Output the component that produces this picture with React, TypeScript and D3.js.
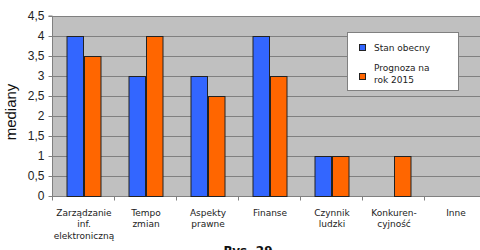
import { useEffect, useRef } from 'react';
import * as d3 from 'd3';

const categories = [
  ['Zarządzanie', 'inf.', 'elektroniczną'],
  ['Tempo', 'zmian'],
  ['Aspekty', 'prawne'],
  ['Finanse'],
  ['Czynnik', 'ludzki'],
  ['Konkuren-', 'cyjność'],
  ['Inne'],
];
const seriesNames = ['Stan obecny', 'Prognoza na rok 2015'];
const stanObecny: (number | null)[] = [4, 3, 3, 4, 1, null, null];
const prognoza2015: (number | null)[] = [3.5, 4, 2.5, 3, 1, 1, null];
const yTicks = [0, 0.5, 1, 1.5, 2, 2.5, 3, 3.5, 4, 4.5];
const colors = ['#3366ff', '#ff6600'];

export default function App() {
  const svgRef = useRef<SVGSVGElement>(null);

  useEffect(() => {
    if (!svgRef.current) return;
    const svg = d3.select(svgRef.current);
    svg.selectAll('*').remove();

    const left = 53;
    const top = 16;
    const bottom = 196;
    const bandW = 62;
    const keys = categories.map((c) => c.join(' '));

    const x = d3.scaleBand()
      .domain(keys)
      .range([left, left + bandW * keys.length])
      .padding(0);
    const inner = d3.scaleBand()
      .domain(seriesNames)
      .range([x.bandwidth() / 2 - 17.5, x.bandwidth() / 2 + 17.5])
      .padding(0);
    const y = d3.scaleLinear().domain([0, 4.5]).range([bottom, top]);

    // plot background
    svg.append('rect')
      .attr('x', left)
      .attr('y', top)
      .attr('width', 480 - left + 10)
      .attr('height', bottom - top)
      .attr('fill', '#c0c0c0');

    // grid lines
    svg.append('g')
      .selectAll('line')
      .data(yTicks.filter((d) => d > 0))
      .join('line')
      .attr('x1', left)
      .attr('x2', 490)
      .attr('y1', (d) => Math.round(y(d)) + 0.5)
      .attr('y2', (d) => Math.round(y(d)) + 0.5)
      .attr('stroke', '#808080')
      .attr('stroke-width', 1);

    // y axis
    const yAxis = svg.append('g')
      .attr('transform', `translate(${left - 0.5},0)`)
      .call(d3.axisLeft(y).tickValues(yTicks).tickSize(4).tickPadding(4)
        .tickFormat((d) => String(d).replace('.', ',')));
    yAxis.select('.domain').attr('stroke', '#808080').attr('d', `M-4,${top}H0V${bottom}`);
    yAxis.selectAll('.tick line').attr('stroke', '#808080');
    yAxis.selectAll('.tick')
      .attr('transform', (d: any) => `translate(0,${Math.round(y(d)) + 0.5})`);
    yAxis.selectAll('text')
      .attr('fill', '#222')
      .style('font-family', '"Liberation Sans", Arial, sans-serif')
      .style('font-size', '12px');

    // x axis
    const xAxis = svg.append('g').attr('transform', `translate(0,${bottom + 0.5})`);
    xAxis.append('line')
      .attr('x1', left - 4)
      .attr('x2', 490)
      .attr('stroke', '#808080');
    xAxis.selectAll('.xt')
      .data(keys)
      .join('line')
      .attr('class', 'xt')
      .attr('x1', (d) => Math.round(x(d)!) - 0.5)
      .attr('x2', (d) => Math.round(x(d)!) - 0.5)
      .attr('y1', 0)
      .attr('y2', 4)
      .attr('stroke', '#808080');

    const labels = xAxis.selectAll('.xl')
      .data(categories)
      .join('text')
      .attr('class', 'xl')
      .attr('text-anchor', 'middle')
      .attr('fill', '#222')
      .style('font-family', '"DejaVu Sans", Verdana, sans-serif')
      .style('font-size', '9px');
    labels.each(function (lines, i) {
      const t = d3.select(this);
      lines.forEach((ln, j) => {
        t.append('tspan')
          .attr('x', x(keys[i])! + x.bandwidth() / 2)
          .attr('y', 19 + j * 11.5)
          .text(ln);
      });
    });

    // bars
    const groups = svg.append('g')
      .selectAll('g')
      .data(keys)
      .join('g')
      .attr('transform', (d) => `translate(${x(d)},0)`);
    groups.selectAll('rect')
      .data((_, i) => [stanObecny[i], prognoza2015[i]].map((v, s) => ({ v, s })))
      .join('rect')
      .filter((d) => d.v != null)
      .attr('x', (d) => inner(seriesNames[d.s])! + 0.5)
      .attr('y', (d) => Math.round(y(d.v as number)) + 0.5)
      .attr('width', inner.bandwidth() - 1)
      .attr('height', (d) => bottom - Math.round(y(d.v as number)))
      .attr('fill', (d) => colors[d.s])
      .attr('stroke', '#222')
      .attr('stroke-width', 1);

    // y label
    svg.append('text')
      .attr('transform', 'translate(16,112) rotate(-90)')
      .attr('text-anchor', 'middle')
      .attr('fill', '#111')
      .style('font-family', '"Liberation Sans", Arial, sans-serif')
      .style('font-size', '15px')
      .text('mediany');

    // legend
    const lg = svg.append('g').attr('transform', 'translate(347.5,32.5)');
    lg.append('rect')
      .attr('width', 111)
      .attr('height', 58)
      .attr('fill', '#fff')
      .attr('stroke', '#808080');
    const legendRows = [
      { lines: ['Stan obecny'], sq: 12, ty: [18] },
      { lines: ['Prognoza na', 'rok 2015'], sq: 41, ty: [38, 50] },
    ];
    legendRows.forEach((r, i) => {
      lg.append('rect')
        .attr('x', 12)
        .attr('y', r.sq)
        .attr('width', 6)
        .attr('height', 6)
        .attr('fill', colors[i])
        .attr('stroke', '#222');
      const t = lg.append('text')
        .attr('fill', '#222')
        .style('font-family', '"DejaVu Sans", Verdana, sans-serif')
        .style('font-size', '9px');
      r.lines.forEach((ln, j) => {
        t.append('tspan').attr('x', 26.5).attr('y', r.ty[j]).text(ln);
      });
    });

    // caption
    svg.append('text')
      .attr('x', 248)
      .attr('y', 255)
      .attr('text-anchor', 'middle')
      .attr('fill', '#111')
      .style('font-family', '"DejaVu Sans", Verdana, sans-serif')
      .style('font-size', '12px')
      .style('font-weight', 'bold')
      .text('Rys. 29');
  }, []);

  return (
    <svg
      ref={svgRef}
      width={480}
      height={250}
      style={{ position: 'absolute', left: 0, top: 0, background: '#fff' }}
    />
  );
}
